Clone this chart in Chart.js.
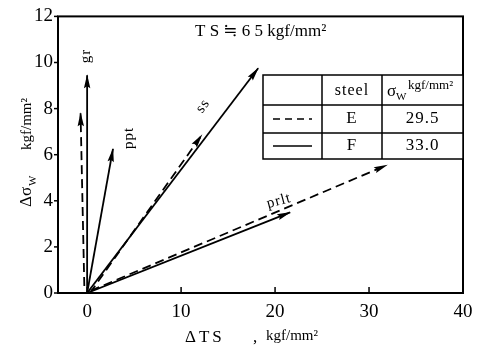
<!DOCTYPE html>
<html>
<head>
<meta charset="utf-8">
<script src="https://cdn.jsdelivr.net/npm/chart.js@4.4.1/dist/chart.umd.min.js"></script>
<style>
html, body { margin: 0; padding: 0; background: #fff; }
#wrap { width: 491px; height: 353px; position: relative; }
</style>
</head>
<body>
<div id="wrap"><canvas id="chart"></canvas></div>
<script>
// tick labels
const xTicks = [0, 10, 20, 30, 40];
const yTicks = [0, 2, 4, 6, 8, 10, 12];

// steel E (dashed) arrows: [start, end] in (ΔTS, Δσw)
const grE   = [[-0.3, 0.3], [-0.7, 7.8]];
const ssE   = [[0.3, 0.0], [12.2, 6.85]];
const prltE = [[0.4, 0.1], [31.9, 5.55]];

// steel F (solid) arrows
const grF   = [[0, 0], [0, 9.45]];
const pptF  = [[0, 0], [2.75, 6.25]];
const ssF   = [[0, 0], [18.2, 9.75]];
const prltF = [[0, 0], [21.6, 3.5]];

// table
const steelNames = ['E', 'F'];
const sigmaW = ['29.5', '33.0'];

const SERIF = '"Liberation Serif", "DejaVu Serif", serif';

function toPts(arr) {
    return arr.map(p => ({ x: p[0], y: p[1] }));
}

function arrowSet(label, arr, dashed) {
    return {
        label: label,
        data: toPts(arr),
        showLine: true,
        borderColor: '#000',
        borderWidth: 1.8,
        borderDash: dashed ? [9, 5] : [],
        pointRadius: 0,
        fill: false
    };
}

// Arrow heads, frame, table and labels
const decorPlugin = {
    id: 'decor',
    afterDatasetsDraw(chart) {
        const ctx = chart.ctx;
        ctx.save();
        ctx.fillStyle = '#000';
        chart.data.datasets.forEach((ds, i) => {
            const pts = chart.getDatasetMeta(i).data;
            const a = pts[pts.length - 2], b = pts[pts.length - 1];
            const ang = Math.atan2(b.y - a.y, b.x - a.x);
            const len = 13, half = 3.2;
            ctx.save();
            ctx.translate(b.x, b.y);
            ctx.rotate(ang);
            ctx.beginPath();
            ctx.moveTo(1, 0);
            ctx.lineTo(-len, -half);
            ctx.lineTo(-len + 2, 0);
            ctx.lineTo(-len, half);
            ctx.closePath();
            ctx.fill();
            ctx.restore();
        });
        ctx.restore();
    },
    afterDraw(chart) {
        const ctx = chart.ctx;
        const area = chart.chartArea;
        const xs = chart.scales.x, ys = chart.scales.y;
        ctx.save();

        // frame
        ctx.strokeStyle = '#000';
        ctx.lineWidth = 2;
        ctx.strokeRect(area.left, area.top, area.right - area.left, area.bottom - area.top);

        // y tick marks (outside), x tick marks (inside)
        ctx.lineWidth = 1.5;
        yTicks.forEach(v => {
            const y = ys.getPixelForValue(v);
            ctx.beginPath();
            ctx.moveTo(area.left - 4, y);
            ctx.lineTo(area.left, y);
            ctx.stroke();
        });
        xTicks.forEach(v => {
            const x = xs.getPixelForValue(v);
            ctx.beginPath();
            ctx.moveTo(x, area.bottom);
            ctx.lineTo(x, area.bottom - 6);
            ctx.stroke();
        });

        // title inside plot
        ctx.fillStyle = '#000';
        ctx.textBaseline = 'middle';
        ctx.textAlign = 'left';
        ctx.font = '17px ' + SERIF;
        ctx.fillText('T S ≒ 6 5 kgf/mm²', 195, 32);

        // arrow labels
        const lab = (txt, x, y, rot) => {
            ctx.save();
            ctx.translate(x, y);
            ctx.rotate(rot * Math.PI / 180);
            ctx.textAlign = 'center';
            ctx.textBaseline = 'middle';
            ctx.font = '15px ' + SERIF;
            ctx.letterSpacing = '1px';
            ctx.fillText(txt, 0, 0);
            ctx.restore();
        };
        lab('gr', 86, 56, -90);
        lab('ppt', 129, 138, -90);
        lab('ss', 203, 106, -55);
        lab('prlt', 279, 201, -15);

        // table
        const tL = 263, tR = area.right, c1 = 322, c2 = 382;
        const rows = [75, 105, 133, 159];
        ctx.fillStyle = '#fff';
        ctx.fillRect(tL, rows[0], tR - tL, rows[3] - rows[0]);
        ctx.strokeStyle = '#000';
        ctx.lineWidth = 1.5;
        ctx.strokeRect(tL, rows[0], tR - tL, rows[3] - rows[0]);
        [rows[1], rows[2]].forEach(y => {
            ctx.beginPath(); ctx.moveTo(tL, y); ctx.lineTo(tR, y); ctx.stroke();
        });
        [c1, c2].forEach(x => {
            ctx.beginPath(); ctx.moveTo(x, rows[0]); ctx.lineTo(x, rows[3]); ctx.stroke();
        });
        ctx.fillStyle = '#000';
        ctx.textAlign = 'center';
        ctx.textBaseline = 'middle';
        ctx.font = '16px ' + SERIF;
        ctx.letterSpacing = '1px';
        ctx.fillText('steel', (c1 + c2) / 2, 91);
        // σw header
        ctx.textAlign = 'left';
        ctx.font = '17px ' + SERIF;
        ctx.letterSpacing = '0px';
        ctx.fillText('σ', 387, 92);
        ctx.font = '11px ' + SERIF;
        ctx.fillText('W', 396, 97);
        ctx.font = '13px ' + SERIF;
        ctx.fillText('kgf/mm²', 408, 86);
        ctx.textAlign = 'center';
        ctx.font = '17px ' + SERIF;
        ctx.letterSpacing = '1px';
        steelNames.forEach((s, i) => {
            const yc = (rows[i + 1] + rows[i + 2]) / 2;
            ctx.fillText(s, (c1 + c2) / 2, yc);
            ctx.fillText(sigmaW[i], (c2 + tR) / 2, yc);
            ctx.beginPath();
            ctx.setLineDash(i === 0 ? [7, 5] : []);
            ctx.moveTo(tL + 10, yc);
            ctx.lineTo(c1 - 10, yc);
            ctx.stroke();
            ctx.setLineDash([]);
        });
        ctx.letterSpacing = '0px';

        // x axis title
        ctx.textAlign = 'left';
        ctx.textBaseline = 'middle';
        ctx.font = '17px ' + SERIF;
        ctx.letterSpacing = '3px';
        ctx.fillText('ΔTS', 185, 338);
        ctx.letterSpacing = '0px';
        ctx.fillText(',', 253, 338);
        ctx.font = '15px ' + SERIF;
        ctx.fillText('kgf/mm²', 266, 336);

        // y axis title (rotated)
        ctx.save();
        ctx.translate(27, 0);
        ctx.rotate(-Math.PI / 2);
        ctx.textAlign = 'left';
        ctx.font = '17px ' + SERIF;
        ctx.fillText('Δσ', -207, 0);
        ctx.font = '11px ' + SERIF;
        ctx.fillText('W', -186, 6);
        ctx.font = '15px ' + SERIF;
        ctx.fillText('kgf/mm²', -150, 0);
        ctx.restore();

        ctx.restore();
    }
};

const tickFont = { family: SERIF, size: 19 };

new Chart(document.getElementById('chart'), {
    type: 'scatter',
    data: {
        datasets: [
            arrowSet('gr E', grE, true),
            arrowSet('ss E', ssE, true),
            arrowSet('prlt E', prltE, true),
            arrowSet('gr F', grF, false),
            arrowSet('ppt F', pptF, false),
            arrowSet('ss F', ssF, false),
            arrowSet('prlt F', prltF, false)
        ]
    },
    options: {
        responsive: true,
        maintainAspectRatio: false,
        animation: false,
        layout: { padding: { left: 0, right: 28, top: 15, bottom: 0 } },
        plugins: {
            legend: { display: false },
            tooltip: { enabled: false }
        },
        scales: {
            x: {
                type: 'linear',
                min: -3.1,
                max: 40,
                afterBuildTicks: s => { s.ticks = xTicks.map(v => ({ value: v })); },
                afterFit: s => { s.height = 60; },
                grid: { display: false, drawTicks: false },
                border: { display: false },
                ticks: { color: '#000', font: tickFont, padding: 8, maxRotation: 0 }
            },
            y: {
                type: 'linear',
                min: 0,
                max: 12,
                afterBuildTicks: s => { s.ticks = yTicks.map(v => ({ value: v })); },
                afterFit: s => { s.width = 58; },
                grid: { display: false, drawTicks: false },
                border: { display: false },
                ticks: { color: '#000', font: tickFont, padding: 5 }
            }
        }
    },
    plugins: [decorPlugin]
});
</script>
</body>
</html>
